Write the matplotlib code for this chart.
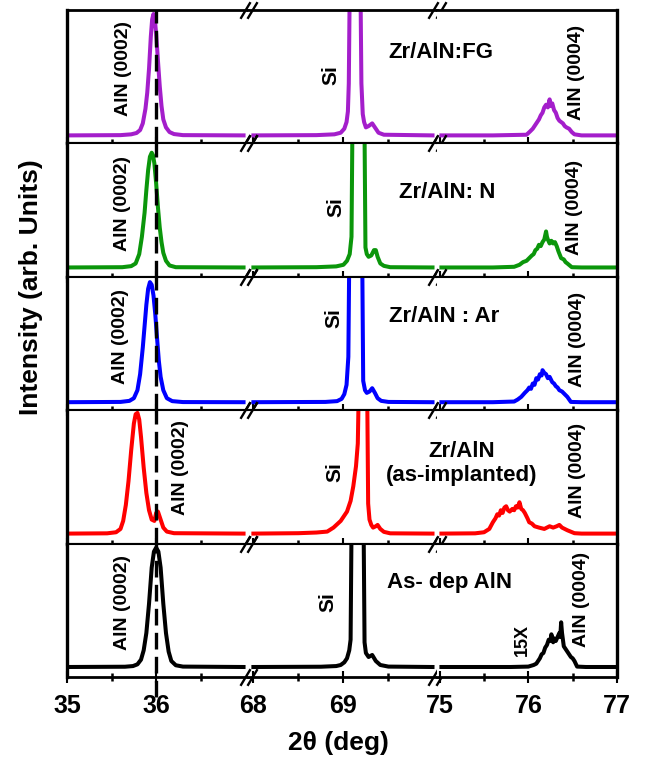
import matplotlib
matplotlib.use('Agg')
import matplotlib.pyplot as plt

plt.rcParams['font.family'] = ['Liberation Sans', 'DejaVu Sans']

# ---- data (intensity normalised to each panel height) ----
# Zr/AlN:FG
fg_x1 = [35.00, 35.60, 35.72, 35.78, 35.82, 35.85, 35.88, 35.90, 35.92, 35.94, 35.955, 35.97, 35.985, 36.00, 36.02, 36.04, 36.06, 36.08, 36.11, 36.15, 36.20, 36.30, 36.98]
fg_y1 = [0.060, 0.062, 0.068, 0.078, 0.100, 0.150, 0.260, 0.380, 0.560, 0.800, 0.930, 0.970, 0.930, 0.820, 0.620, 0.430, 0.280, 0.180, 0.120, 0.085, 0.070, 0.062, 0.060]
fg_x2 = [68.00, 68.70, 68.90, 68.97, 69.01, 69.035, 69.05, 69.06, 69.075, 69.13, 69.185, 69.20, 69.215, 69.23, 69.25, 69.28, 69.32, 69.36, 69.39, 69.45, 69.99]
fg_y2 = [0.060, 0.062, 0.068, 0.080, 0.110, 0.160, 0.240, 0.450, 1.500, 8.000, 1.500, 0.450, 0.220, 0.160, 0.120, 0.130, 0.150, 0.110, 0.080, 0.065, 0.060]
fg_x3 = [75.02, 75.60, 75.98, 76.02, 76.05, 76.08, 76.10, 76.12, 76.14, 76.16, 76.18, 76.20, 76.22, 76.24, 76.25, 76.27, 76.29, 76.31, 76.33, 76.35, 76.37, 76.39, 76.41, 76.43, 76.46, 76.49, 76.52, 76.60, 77.00]
fg_y3 = [0.060, 0.060, 0.065, 0.090, 0.110, 0.140, 0.160, 0.180, 0.210, 0.230, 0.270, 0.290, 0.270, 0.330, 0.280, 0.300, 0.250, 0.230, 0.190, 0.170, 0.160, 0.150, 0.130, 0.120, 0.110, 0.085, 0.068, 0.060, 0.060]

# Zr/AlN: N
n_x1 = [35.00, 35.62, 35.72, 35.77, 35.81, 35.84, 35.87, 35.89, 35.91, 35.93, 35.95, 35.965, 35.98, 36.00, 36.02, 36.04, 36.06, 36.08, 36.11, 36.15, 36.22, 36.98]
n_y1 = [0.070, 0.072, 0.080, 0.100, 0.170, 0.300, 0.480, 0.650, 0.800, 0.900, 0.930, 0.910, 0.850, 0.700, 0.520, 0.370, 0.260, 0.180, 0.120, 0.085, 0.072, 0.070]
n_x2 = [68.00, 68.70, 68.92, 69.00, 69.04, 69.07, 69.09, 69.105, 69.17, 69.23, 69.245, 69.26, 69.28, 69.31, 69.34, 69.36, 69.38, 69.41, 69.45, 69.52, 69.99]
n_y2 = [0.070, 0.072, 0.078, 0.090, 0.120, 0.170, 0.300, 1.500, 8.000, 1.500, 0.220, 0.170, 0.150, 0.160, 0.200, 0.200, 0.150, 0.100, 0.082, 0.072, 0.070]
n_x3 = [75.02, 75.60, 75.84, 75.90, 75.94, 75.98, 76.01, 76.04, 76.06, 76.08, 76.10, 76.12, 76.14, 76.16, 76.18, 76.20, 76.21, 76.22, 76.24, 76.26, 76.28, 76.30, 76.32, 76.34, 76.37, 76.40, 76.42, 76.44, 76.49, 76.60, 77.00]
n_y3 = [0.070, 0.070, 0.075, 0.090, 0.110, 0.120, 0.140, 0.160, 0.170, 0.200, 0.210, 0.240, 0.230, 0.260, 0.280, 0.340, 0.300, 0.280, 0.250, 0.270, 0.250, 0.260, 0.230, 0.190, 0.140, 0.130, 0.110, 0.100, 0.072, 0.070, 0.070]

# Zr/AlN : Ar
ar_x1 = [35.00, 35.60, 35.70, 35.75, 35.79, 35.82, 35.85, 35.87, 35.89, 35.91, 35.93, 35.95, 35.97, 35.99, 36.01, 36.03, 36.05, 36.08, 36.12, 36.18, 36.30, 36.98]
ar_y1 = [0.060, 0.062, 0.070, 0.090, 0.150, 0.270, 0.470, 0.630, 0.790, 0.910, 0.960, 0.940, 0.860, 0.720, 0.540, 0.370, 0.250, 0.150, 0.090, 0.068, 0.061, 0.060]
ar_x2 = [68.00, 68.80, 68.93, 68.98, 69.01, 69.035, 69.055, 69.07, 69.14, 69.205, 69.22, 69.24, 69.26, 69.29, 69.32, 69.35, 69.38, 69.42, 69.50, 69.99]
ar_y2 = [0.060, 0.062, 0.068, 0.085, 0.120, 0.190, 0.400, 1.500, 8.000, 1.500, 0.220, 0.150, 0.130, 0.140, 0.165, 0.130, 0.090, 0.070, 0.062, 0.060]
ar_x3 = [75.02, 75.60, 75.84, 75.88, 75.92, 75.96, 75.99, 76.01, 76.03, 76.05, 76.07, 76.09, 76.11, 76.13, 76.15, 76.16, 76.18, 76.20, 76.22, 76.24, 76.27, 76.29, 76.31, 76.33, 76.35, 76.38, 76.41, 76.44, 76.48, 76.60, 77.00]
ar_y3 = [0.060, 0.060, 0.065, 0.080, 0.100, 0.130, 0.150, 0.170, 0.160, 0.200, 0.190, 0.240, 0.230, 0.270, 0.260, 0.300, 0.280, 0.270, 0.240, 0.250, 0.210, 0.200, 0.180, 0.170, 0.150, 0.140, 0.120, 0.100, 0.062, 0.060, 0.060]

# Zr/AlN (as-implanted)
imp_x1 = [35.00, 35.45, 35.55, 35.60, 35.63, 35.66, 35.69, 35.72, 35.75, 35.77, 35.79, 35.81, 35.83, 35.86, 35.89, 35.92, 35.95, 35.98, 36.00, 36.02, 36.05, 36.08, 36.12, 36.20, 36.98]
imp_y1 = [0.075, 0.077, 0.085, 0.110, 0.170, 0.290, 0.470, 0.700, 0.900, 0.970, 0.980, 0.930, 0.800, 0.570, 0.380, 0.250, 0.180, 0.170, 0.230, 0.240, 0.180, 0.120, 0.090, 0.078, 0.075]
imp_x2 = [68.00, 68.50, 68.70, 68.82, 68.89, 68.97, 69.04, 69.08, 69.11, 69.14, 69.16, 69.18, 69.22, 69.26, 69.275, 69.29, 69.31, 69.33, 69.36, 69.38, 69.41, 69.45, 69.52, 69.99]
imp_y2 = [0.075, 0.078, 0.083, 0.090, 0.120, 0.170, 0.240, 0.320, 0.430, 0.580, 0.750, 1.500, 8.000, 1.500, 0.300, 0.180, 0.140, 0.120, 0.130, 0.140, 0.110, 0.088, 0.077, 0.075]
imp_x3 = [75.02, 75.40, 75.50, 75.56, 75.60, 75.63, 75.65, 75.67, 75.69, 75.71, 75.73, 75.75, 75.77, 75.79, 75.82, 75.84, 75.86, 75.88, 75.90, 75.92, 75.94, 75.96, 75.99, 76.01, 76.04, 76.07, 76.12, 76.18, 76.24, 76.28, 76.32, 76.35, 76.38, 76.41, 76.44, 76.52, 76.60, 77.00]
imp_y3 = [0.075, 0.077, 0.085, 0.110, 0.160, 0.190, 0.220, 0.210, 0.250, 0.230, 0.270, 0.280, 0.250, 0.240, 0.260, 0.250, 0.280, 0.270, 0.310, 0.260, 0.250, 0.230, 0.190, 0.160, 0.150, 0.130, 0.120, 0.110, 0.130, 0.120, 0.130, 0.140, 0.120, 0.110, 0.100, 0.078, 0.075, 0.075]

# As-dep AlN
dep_x1 = [35.00, 35.65, 35.74, 35.79, 35.83, 35.86, 35.89, 35.92, 35.95, 35.975, 36.00, 36.025, 36.05, 36.08, 36.11, 36.14, 36.17, 36.22, 36.30, 36.98]
dep_y1 = [0.075, 0.077, 0.082, 0.095, 0.130, 0.200, 0.330, 0.550, 0.820, 0.940, 0.970, 0.940, 0.820, 0.550, 0.330, 0.190, 0.120, 0.088, 0.078, 0.075]
dep_x2 = [68.00, 68.75, 68.92, 68.97, 69.01, 69.04, 69.065, 69.08, 69.095, 69.16, 69.22, 69.235, 69.25, 69.28, 69.32, 69.36, 69.41, 69.50, 69.99]
dep_y2 = [0.075, 0.077, 0.082, 0.090, 0.110, 0.140, 0.200, 0.280, 1.500, 8.000, 1.500, 0.260, 0.180, 0.150, 0.165, 0.120, 0.090, 0.078, 0.075]
dep_x3 = [75.02, 75.80, 76.00, 76.06, 76.09, 76.11, 76.13, 76.15, 76.17, 76.19, 76.21, 76.23, 76.25, 76.26, 76.28, 76.29, 76.31, 76.33, 76.35, 76.36, 76.37, 76.38, 76.40, 76.42, 76.44, 76.46, 76.48, 76.50, 76.52, 76.55, 76.65, 77.00]
dep_y3 = [0.075, 0.075, 0.078, 0.090, 0.100, 0.120, 0.140, 0.170, 0.180, 0.220, 0.240, 0.280, 0.270, 0.320, 0.260, 0.290, 0.270, 0.300, 0.330, 0.300, 0.410, 0.330, 0.230, 0.210, 0.190, 0.170, 0.150, 0.140, 0.120, 0.078, 0.075, 0.075]

sample_names = ['Zr/AlN:FG', 'Zr/AlN: N', 'Zr/AlN : Ar', 'Zr/AlN\n(as-implanted)', 'As- dep AlN']
line_colors = ['#A41ECB', '#0B960B', '#0000FF', '#FF0000', '#000000']

x_ranges = [(35.0, 37.03), (67.94, 70.04), (74.97, 77.0)]
major_ticks = [[35, 36], [68, 69], [75, 76, 77]]
minor_ticks = [[35.5, 36.5], [68.5, 69.5], [75.5, 76.5]]

series = [
    [(fg_x1, fg_y1), (fg_x2, fg_y2), (fg_x3, fg_y3)],
    [(n_x1, n_y1), (n_x2, n_y2), (n_x3, n_y3)],
    [(ar_x1, ar_y1), (ar_x2, ar_y2), (ar_x3, ar_y3)],
    [(imp_x1, imp_y1), (imp_x2, imp_y2), (imp_x3, imp_y3)],
    [(dep_x1, dep_y1), (dep_x2, dep_y2), (dep_x3, dep_y3)],
]

# label placement (x in data units, y in panel fraction)
name_pos = [(75.01, 0.68), (75.08, 0.63), (75.05, 0.70), (75.25, 0.60), (75.11, 0.71)]
a0002_pos = [(35.63, 0.56), (35.62, 0.55), (35.60, 0.55), (36.27, 0.57), (35.62, 0.56)]
si_pos = [(68.86, 0.51), (68.92, 0.52), (68.89, 0.69), (68.91, 0.54), (68.83, 0.56)]
a0004_pos = [(76.54, 0.53), (76.52, 0.52), (76.55, 0.53), (76.55, 0.55), (76.60, 0.58)]

fig = plt.figure(figsize=(6.48, 7.61), dpi=100)
gs = fig.add_gridspec(5, 3, left=67/648, right=617/648, top=1-10/761, bottom=1-677/761,
                      hspace=0, wspace=0, width_ratios=[181, 189, 180])

slash = [(-0.6, -1), (0.6, 1)]

for r in range(5):
    for c in range(3):
        ax = fig.add_subplot(gs[r, c])
        xs, ys = series[r][c]
        ax.plot(xs, ys, color=line_colors[r], lw=2.9, solid_joinstyle='round', zorder=2)
        ax.set_xlim(x_ranges[c])
        ax.set_ylim(0, 1)
        ax.set_yticks([])
        ax.set_xticks(major_ticks[c])
        ax.set_xticks(minor_ticks[c], minor=True)
        ax.tick_params(axis='x', which='major', direction='inout', length=8, width=1.5,
                       labelsize=18, pad=8, labelbottom=(r == 4))
        ax.tick_params(axis='x', which='minor', direction='inout', length=6, width=1.8)
        for lab in ax.get_xticklabels():
            lab.set_fontweight('bold')
        ax.spines['top'].set_linewidth(2.0 if r == 0 else 1.5)
        ax.spines['bottom'].set_linewidth(2.0 if r == 4 else 1.5)
        ax.spines['left'].set_visible(c == 0)
        ax.spines['right'].set_visible(c == 2)
        ax.spines['left'].set_linewidth(2.4)
        ax.spines['right'].set_linewidth(2.4)

        if c == 0:
            ax.axvline(36, ymin=(-0.15 if r == 4 else 0), ymax=1, color='k', lw=2.4,
                       ls=(0, (5, 2.2)), zorder=3, clip_on=False)
            x, y = a0002_pos[r]
            ax.text(x, y, 'AlN (0002)', transform=ax.get_xaxis_transform(), rotation=90,
                    ha='center', va='center', fontsize=14, fontweight='bold')
        elif c == 1:
            x, y = si_pos[r]
            ax.text(x, y, 'Si', transform=ax.get_xaxis_transform(), rotation=90,
                    ha='center', va='center', fontsize=15, fontweight='bold')
            off = 3.5 / 189
            for xb in (0, 1):
                for yb in (0, 1):
                    ax.plot([xb - off, xb + off], [yb, yb], transform=ax.transAxes,
                            marker=slash, ms=12, mew=1.7, mec='k', ls='none',
                            clip_on=False, zorder=6)
        else:
            x, y = a0004_pos[r]
            ax.text(x, y, 'AlN (0004)', transform=ax.get_xaxis_transform(), rotation=90,
                    ha='center', va='center', fontsize=14, fontweight='bold')
            x, y = name_pos[r]
            ax.text(x, y, sample_names[r], transform=ax.get_xaxis_transform(),
                    ha='center', va='center', fontsize=16, fontweight='bold',
                    multialignment='center', linespacing=1.15)
            if r == 4:
                ax.text(75.93, 0.28, '15X', transform=ax.get_xaxis_transform(), rotation=90,
                        ha='center', va='center', fontsize=13, fontweight='bold')

fig.text(31/648, 1-287/761, 'Intensity (arb. Units)', rotation=90, ha='center', va='center',
         fontsize=19, fontweight='bold')
fig.text(338/648, 1-743/761, '2θ (deg)', ha='center', va='center',
         fontsize=19, fontweight='bold')

fig.savefig('out.png', dpi=100, facecolor='white')
